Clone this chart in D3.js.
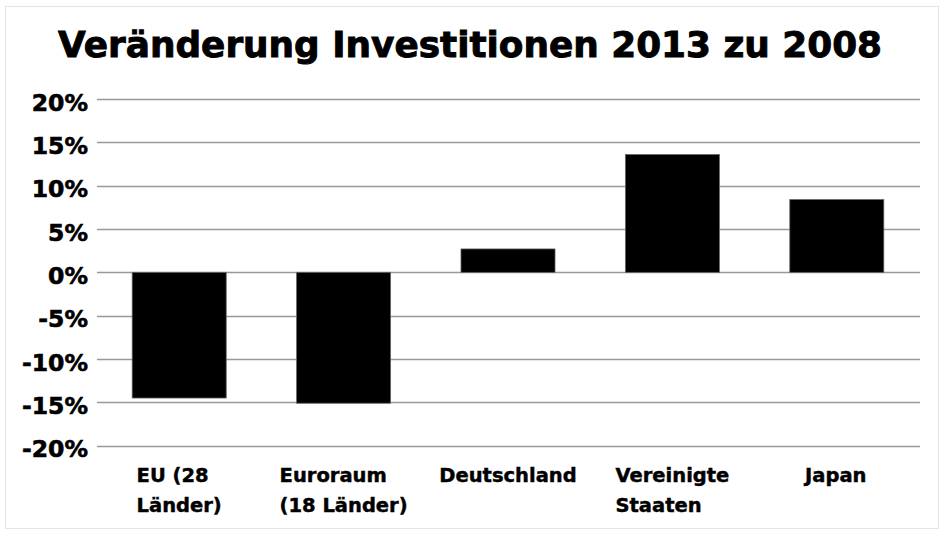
<!DOCTYPE html>
<html><head><meta charset="utf-8">
<script src="https://cdn.jsdelivr.net/npm/d3@7"></script>
<style>body{margin:0;background:#fff}svg{display:block}</style>
</head><body>
<script>
const title = "Veränderung Investitionen 2013 zu 2008";
const categories = [["EU (28", "Länder)"], ["Euroraum", "(18 Länder)"], ["Deutschland"], ["Vereinigte", "Staaten"], ["Japan"]];
const values = [-0.145, -0.151, 0.027, 0.136, 0.084];
const yTicks = [0.2, 0.15, 0.1, 0.05, 0, -0.05, -0.1, -0.15, -0.2];

const W = 945, H = 539;
const font = "'DejaVu Sans', sans-serif";
const svg = d3.select("body").append("svg").attr("width", W).attr("height", H);
svg.append("rect").attr("x", 5.5).attr("y", 6.5).attr("width", 933).attr("height", 522)
  .attr("fill", "#fff").attr("stroke", "#e4e4e4");

const x = d3.scaleBand().domain(d3.range(values.length)).range([97, 919])
  .paddingInner(0.428).paddingOuter(0.214);
const y = d3.scaleLinear().domain([-0.2, 0.2]).range([445.7, 99]);

// gridlines
svg.append("g").selectAll("line").data(yTicks).join("line")
  .attr("x1", 97).attr("x2", 920)
  .attr("y1", d => Math.round(y(d)) + 0.5).attr("y2", d => Math.round(y(d)) + 0.5)
  .attr("stroke", "#999").attr("stroke-width", 1.4);

// y axis labels
const pct = d => Math.round(d * 100) + "%";
const yAxis = d3.axisLeft(y).tickValues(yTicks).tickFormat(pct).tickSize(0).tickPadding(0);
const ga = svg.append("g").attr("transform", "translate(88,0)").call(yAxis);
ga.select(".domain").remove();
ga.selectAll("text").attr("font-family", font).attr("font-weight", "bold")
  .attr("font-size", 23.5).attr("fill", "#000").attr("dy", "0.48em")
  .attr("stroke", "#000").attr("stroke-width", 0.6);

// bars
svg.append("g").selectAll("rect").data(values).join("rect")
  .attr("x", (d, i) => x(i)).attr("width", x.bandwidth())
  .attr("y", d => y(Math.max(0, d))).attr("height", d => Math.abs(y(d) - y(0)))
  .attr("fill", "#000").attr("stroke", "#666").attr("stroke-width", 0.8);

// category labels
const cg = svg.append("g").selectAll("g").data(categories).join("g");
cg.each(function(lines, i) {
  const g = d3.select(this);
  const t = g.append("text").attr("font-family", font).attr("font-weight", "bold")
    .attr("font-size", 19.5).attr("fill", "#000").attr("stroke", "#000").attr("stroke-width", 0.45);
  lines.forEach((l, k) => t.append("tspan").attr("x", 0).attr("y", 482 + k * 30).text(l));
  const w = t.node().getBBox().width;
  g.attr("transform", `translate(${x(i) + x.bandwidth() / 2 - w / 2},0)`);
});

// title
svg.append("text").attr("x", 470).attr("y", 57).attr("text-anchor", "middle")
  .attr("font-family", font).attr("font-weight", "bold").attr("font-size", 35)
  .attr("textLength", 824).attr("lengthAdjust", "spacingAndGlyphs")
  .attr("fill", "#000").attr("stroke", "#000").attr("stroke-width", 0.9)
  .text(title);
</script>
</body></html>
